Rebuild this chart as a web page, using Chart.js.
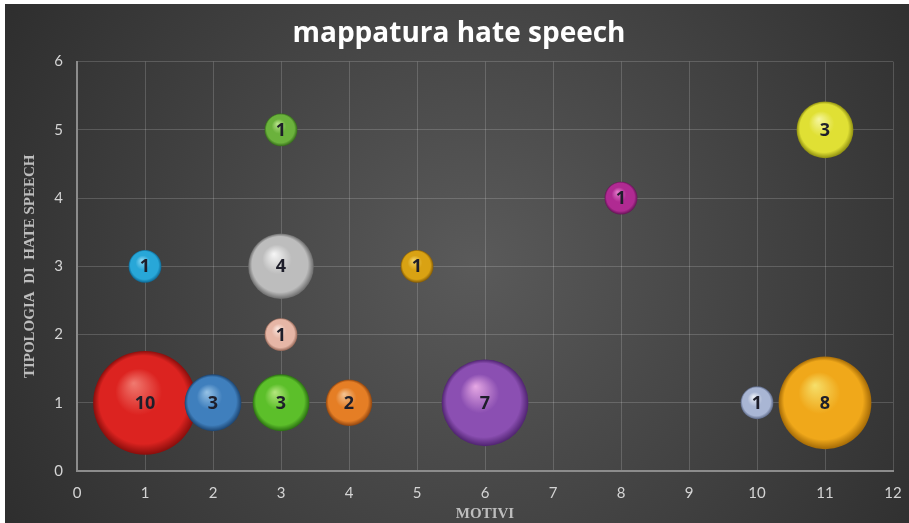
<!DOCTYPE html>
<html>
<head>
<meta charset="utf-8">
<script src="https://cdn.jsdelivr.net/npm/chart.js@4.4.1/dist/chart.umd.min.js"></script>
<style>
  html, body { margin: 0; padding: 0; background: #fff; overflow: hidden; }
  #wrap { position: absolute; left: 5px; top: 4px; width: 904px; height: 519px; }
</style>
</head>
<body>
<div id="wrap"><canvas id="chart-bolle"></canvas></div>
<script>
// Dati
const motivi    = [1, 2, 3, 4, 6, 10, 11, 1, 3, 3, 3, 5, 8, 11];
const tipologia = [1, 1, 1, 1, 1, 1, 1, 3, 2, 3, 5, 3, 4, 5];
const conteggi  = [10, 3, 3, 2, 7, 1, 8, 1, 1, 4, 1, 1, 1, 3];
const xTicks = [0, 1, 2, 3, 4, 5, 6, 7, 8, 9, 10, 11, 12];
const yTicks = [0, 1, 2, 3, 4, 5, 6];

// colori delle sfere: [luce, base, ombra]
const colori = [
  ['#f07a70', '#dc2320', '#8a0e0c'],
  ['#96c2e6', '#3f7fbd', '#1c4470'],
  ['#b4e67e', '#5cbf2a', '#2a6e12'],
  ['#f4c494', '#e57e25', '#8f4510'],
  ['#e6a8e4', '#8b4fb2', '#4f2370'],
  ['#eef1f8', '#a9b6d4', '#5a6684'],
  ['#f6df6a', '#f0a81a', '#a46a06'],
  ['#8ed8f4', '#28a7d8', '#0d6894'],
  ['#fbe6de', '#e6b6a6', '#946656'],
  ['#f6f6f6', '#bdbdbd', '#6a6a6a'],
  ['#b8e48a', '#6bb23c', '#346a1a'],
  ['#f4d468', '#d9a213', '#835a06'],
  ['#e47ccc', '#b02a92', '#641456'],
  ['#f6f6a0', '#e0e034', '#8e8e10']
];

const KR = 16.4; // px di raggio per radice del conteggio

const punti = motivi.map((m, i) => ({ x: m, y: tipologia[i], r: KR * Math.sqrt(conteggi[i]) }));

function sfera(ctx) {
  const chart = ctx.chart;
  const raw = ctx.raw;
  if (!raw || !chart.chartArea) return colori[ctx.dataIndex % colori.length][1];
  const cx = chart.scales.x.getPixelForValue(raw.x);
  const cy = chart.scales.y.getPixelForValue(raw.y);
  const r = raw.r;
  const c = colori[ctx.dataIndex];
  const g = chart.ctx.createRadialGradient(cx - r * 0.22, cy - r * 0.38, 0, cx, cy, r);
  g.addColorStop(0, c[0]);
  g.addColorStop(0.45, c[1]);
  g.addColorStop(0.85, c[1]);
  g.addColorStop(1, c[2]);
  return g;
}

const sfondo = {
  id: 'sfondo',
  beforeDraw(chart) {
    const { ctx, width, height } = chart;
    const g = ctx.createRadialGradient(width * 0.52, height * 0.5, 0, width * 0.52, height * 0.5, width * 0.62);
    g.addColorStop(0, '#5a5a5a');
    g.addColorStop(1, '#2c2c2c');
    ctx.save();
    ctx.fillStyle = g;
    ctx.fillRect(0, 0, width, height);
    ctx.restore();
  }
};

const etichette = {
  id: 'etichette',
  afterDatasetsDraw(chart) {
    const { ctx } = chart;
    const meta = chart.getDatasetMeta(0);
    ctx.save();
    ctx.font = 'bold 18px "Open Sans"';
    ctx.fillStyle = '#1e1e2a';
    ctx.textAlign = 'center';
    ctx.textBaseline = 'middle';
    meta.data.forEach((el, i) => {
      ctx.fillText(String(conteggi[i]), el.x, el.y + 1);
    });
    ctx.restore();
  }
};

new Chart(document.getElementById('chart-bolle'), {
  type: 'bubble',
  data: {
    datasets: [{
      label: 'hate speech',
      data: punti,
      backgroundColor: sfera,
      borderWidth: 0,
      hoverBorderWidth: 0,
      clip: false
    }]
  },
  options: {
    responsive: true,
    maintainAspectRatio: false,
    animation: false,
    layout: { autoPadding: false, padding: { left: 20, right: 16, top: 0, bottom: 0 } },
    plugins: {
      legend: { display: false },
      tooltip: { enabled: false },
      title: {
        display: true,
        text: 'mappatura hate speech',
        color: '#ffffff',
        font: { family: 'Open Sans', size: 28, weight: 'bold' },
        padding: { top: 13, bottom: 11 }
      }
    },
    scales: {
      x: {
        type: 'linear',
        min: 0,
        max: 12,
        afterBuildTicks: s => { s.ticks = xTicks.map(v => ({ value: v })); },
        afterFit: s => { s.height = 52; },
        ticks: { color: '#d4d4d4', font: { family: 'Lato', size: 15 }, padding: 0 },
        grid: { color: 'rgba(255,255,255,0.17)', drawTicks: true, tickLength: 13, tickColor: 'rgba(0,0,0,0)' },
        border: { display: true, color: '#8c8c8c', width: 2 },
        title: {
          display: true,
          text: 'MOTIVI',
          color: '#bdbdbd',
          font: { family: 'Liberation Serif', size: 15, weight: 'bold' },
          padding: { top: 0, bottom: 0 }
        }
      },
      y: {
        type: 'linear',
        min: 0,
        max: 6,
        afterBuildTicks: s => { s.ticks = yTicks.map(v => ({ value: v })); },
        afterFit: s => { s.width = 52; },
        ticks: { color: '#d4d4d4', font: { family: 'Lato', size: 15 }, padding: 14 },
        grid: { color: 'rgba(255,255,255,0.17)', drawTicks: false },
        border: { display: true, color: '#8c8c8c', width: 2 },
        title: {
          display: true,
          text: 'TIPOLOGIA  DI  HATE SPEECH',
          color: '#bdbdbd',
          font: { family: 'Liberation Serif', size: 15, weight: 'bold' },
          padding: { top: -4, bottom: 0 }
        }
      }
    }
  },
  plugins: [sfondo, etichette]
});
</script>
</body>
</html>
